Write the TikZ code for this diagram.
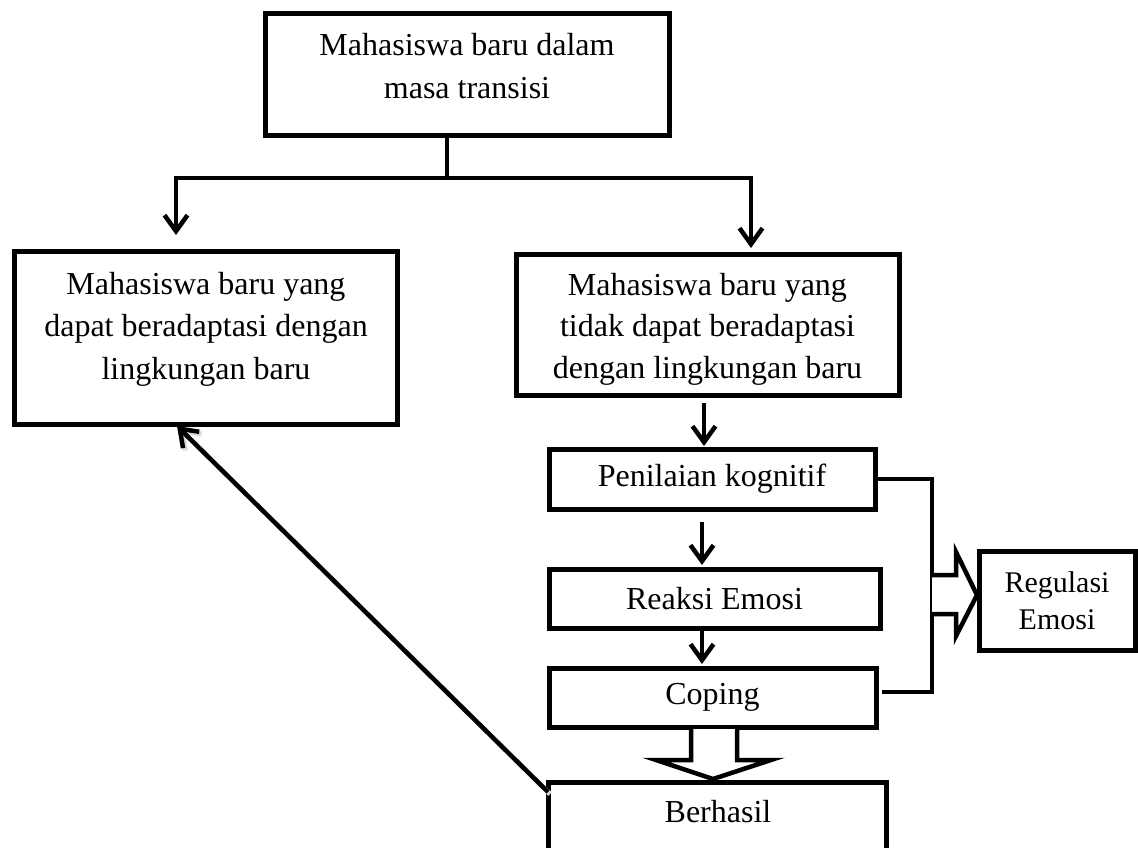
\documentclass[tikz,border=0pt]{standalone}
\usepackage{fontspec}
\setmainfont{Liberation Serif}
\usetikzlibrary{arrows.meta,calc}
\begin{document}
\begin{tikzpicture}[x=1pt,y=-1pt,
  box/.style={draw, line width=5pt, inner sep=0pt, outer sep=0pt, anchor=north west, line join=miter},
  txt/.style={align=center, inner sep=0pt, font=\fontsize{32}{42.5}\selectfont},
  conn/.style={line width=4.5pt, line join=miter},
  arr/.style={line width=4.5pt, line join=miter, -{Straight Barb[length=16pt,width=23pt]}},
  blockarrow/.style={draw, fill=white, line width=4.5pt, line join=miter, miter limit=20}
]
\useasboundingbox (0,0) rectangle (1138,848);
\clip (0,0) rectangle (1138,848);

% boxes
\node[box, minimum width=404pt, minimum height=122pt] (top) at (265,14) {};
\node[txt, font=\fontsize{32}{43}\selectfont] (toptext) at (467,66) {Mahasiswa baru dalam\\masa transisi};

\node[box, minimum width=383pt, minimum height=173pt] (left) at (14,251) {};
\node[txt] (lefttext) at (206,329) {Mahasiswa baru yang\\dapat beradaptasi dengan\\lingkungan baru};

\node[box, minimum width=383pt, minimum height=141pt] (right) at (516,254) {};
\node[txt, font=\fontsize{32}{41.5}\selectfont] (righttext) at (707.5,329) {Mahasiswa baru yang\\tidak dapat beradaptasi\\dengan lingkungan baru};

\node[box, txt, anchor=north west, minimum width=326pt, minimum height=60pt] (pen) at (549,449) {Penilaian kognitif};
\node[box, txt, anchor=north west, minimum width=331pt, minimum height=59pt] (reaksi) at (549,569) {Reaksi Emosi};
\node[box, txt, anchor=north west, minimum width=327pt, minimum height=59pt] (coping) at (549,668) {Coping};
\node[box, minimum width=338pt, minimum height=100pt] (berhasil) at (548,782) {};
\node[txt, anchor=base] (berhasiltext) at (718,822) {Berhasil};
\node[box, txt, anchor=north west, font=\fontsize{30}{37}\selectfont, minimum width=156pt, minimum height=99pt] (reg) at (979,551) {Regulasi\\Emosi};

% split from top box
\coordinate (sp) at (447,178);
\coordinate (la) at (176,235);
\coordinate (ra) at (751,248);
\draw[conn] (top.south -| sp) -- (sp);
\draw[arr] (sp) -| (la);
\draw[arr] (sp) -| (ra);

% vertical chain
\coordinate (cx) at (704,0);
\coordinate (cy) at (702,0);
\draw[arr, shorten <=8pt, shorten >=3pt] (right.south -| cx) -- (pen.north -| cx);
\draw[arr, shorten <=13pt, shorten >=4pt] (pen.south -| cy) -- (reaksi.north -| cy);
\draw[arr, shorten >=4pt] (reaksi.south -| cy) -- (coping.north -| cy);

% block arrow coping -> berhasil
\draw[blockarrow] (691,729) -- (691,760) -- (656,760) -- (713,779) -- (771,760) -- (737,760) -- (737,729);

% diagonal back to left box
\coordinate (dgs) at ($(berhasil.north west)+(0,10)$);
\coordinate (dge) at ($(left.south west)+(163,2)$);
\draw[arr, preaction={draw, black!15, line width=5pt, transform canvas={shift={(2pt,-2pt)}}}] (dgs) -- (dge);

% bracket to Regulasi Emosi
\coordinate (b1) at (932,0);
\draw[conn] (pen.east) -- (pen.east -| b1) -- (b1 |- 0,692) -- ($(coping.east)+(6,-5.5)$);
\draw[blockarrow] (932,575) -- (956,575) -- (956,552) -- (977,595) -- (956,636) -- (956,614) -- (932,614);
\end{tikzpicture}
\end{document}
